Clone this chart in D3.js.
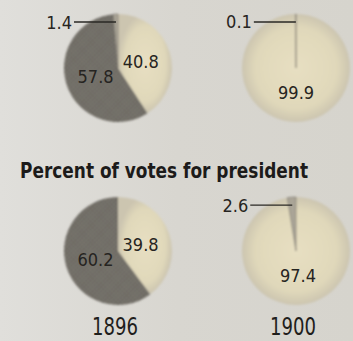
<!DOCTYPE html>
<html>
<head>
<meta charset="utf-8">
<script src="https://cdn.jsdelivr.net/npm/d3@7"></script>
<style>
  html, body { margin: 0; padding: 0; background: #d9d7d1; }
  svg { display: block; }
</style>
</head>
<body>
<svg id="chart" width="353" height="341"></svg>
<script>
// Election years, one column of pies each
const years = ["1896", "1900"];
const sliceKeys = ["light", "dark", "minor"];

// Upper row of pies (percent)
const upperLight = [40.8, 99.9];
const upperDark = [57.8, 0];
const upperMinor = [1.4, 0.1];

// Percent of votes for president
const presLight = [39.8, 97.4];
const presDark = [60.2, 0];
const presMinor = [0, 2.6];

const rowTitles = ["", "Percent of votes for president"];

const W = 353, H = 341;
const svg = d3.select("#chart");
const defs = svg.append("defs");

// paper background
const bg = defs.append("linearGradient").attr("id", "paper")
  .attr("x1", 0).attr("x2", 1).attr("y1", 0).attr("y2", 0);
bg.append("stop").attr("offset", 0).attr("stop-color", "#e0dfdb");
bg.append("stop").attr("offset", 0.5).attr("stop-color", "#d8d6d0");
bg.append("stop").attr("offset", 1).attr("stop-color", "#d6d4cd");
svg.append("rect").attr("width", W).attr("height", H).attr("fill", "url(#paper)");

// halftone screen for the dark share
const ht = defs.append("pattern").attr("id", "halftone")
  .attr("patternUnits", "userSpaceOnUse").attr("width", 3).attr("height", 3)
  .attr("patternTransform", "rotate(45)");
ht.append("rect").attr("width", 3).attr("height", 3).attr("fill", "#8e8a81");
ht.append("circle").attr("cx", 1.5).attr("cy", 1.5).attr("r", 1.15).attr("fill", "#514e49");

// pale tint for the light share
const lt = defs.append("radialGradient").attr("id", "tint");
lt.append("stop").attr("offset", 0).attr("stop-color", "#e7dfc2");
lt.append("stop").attr("offset", 0.75).attr("stop-color", "#e0d8ba");
lt.append("stop").attr("offset", 1).attr("stop-color", "#ccc5b0");

const soft = defs.append("filter").attr("id", "soft")
  .attr("x", "-10%").attr("y", "-10%").attr("width", "120%").attr("height", "120%");
soft.append("feGaussianBlur").attr("stdDeviation", 0.9);

const fills = { light: "url(#tint)", dark: "url(#halftone)", minor: "#aaa597" };

const x = d3.scalePoint().domain(years).range([118, 296]);
const y = d3.scalePoint().domain([0, 1]).range([68, 251]);
const radius = 54;

const pie = d3.pie().sort(null).value(d => d.value)
  .startAngle(0).endAngle(2 * Math.PI);
const arc = d3.arc().innerRadius(0).outerRadius(radius);
const labelArc = d3.arc().innerRadius(0).outerRadius(radius * 0.88);

const rows = [
  [upperLight, upperDark, upperMinor],
  [presLight, presDark, presMinor]
];

const numFont = "'DejaVu Sans Condensed', 'DejaVu Sans', sans-serif";

rows.forEach((series, r) => {
  if (rowTitles[r]) {
    svg.append("text")
      .attr("x", 20).attr("y", y(r) - 73)
      .attr("textLength", 288).attr("lengthAdjust", "spacingAndGlyphs")
      .attr("font-family", numFont).attr("font-weight", "bold")
      .attr("font-size", 21).attr("fill", "#1c1b1a")
      .text(rowTitles[r]);
  }

  years.forEach((yr, i) => {
    const data = sliceKeys.map((k, j) => ({ key: k, value: series[j][i] }));
    const slices = pie(data).filter(s => s.data.value > 0);
    const g = svg.append("g").attr("transform", `translate(${x(yr)},${y(r)})`);

    g.append("g").attr("filter", "url(#soft)")
      .selectAll("path").data(slices).join("path")
      .attr("d", arc)
      .attr("fill", d => fills[d.data.key])
      .attr("stroke", d => d.data.key === "minor" ? "#6e6a62" : "none")
      .attr("stroke-width", 0.6);

    // value labels inside the larger slices
    g.selectAll("text.inside").data(slices.filter(s => s.data.value >= 10)).join("text")
      .attr("class", "inside")
      .attr("transform", d => {
        const [cx, cy] = labelArc.centroid(d);
        return `translate(${cx},${cy})`;
      })
      .attr("dy", "0.4em")
      .attr("text-anchor", "middle")
      .attr("font-family", numFont).attr("font-size", 18)
      .attr("fill", "#262421")
      .text(d => d3.format(".1f")(d.data.value));

    // small slices get a leader line out to the left
    slices.filter(s => s.data.value < 10).forEach(s => {
      const mid = (s.startAngle + s.endAngle) / 2;
      const ex = Math.sin(mid) * (radius - 8);
      const ey = -Math.cos(mid) * (radius - 8);
      const sx = ex - 42;
      g.append("line")
        .attr("x1", sx).attr("y1", ey).attr("x2", ex).attr("y2", ey)
        .attr("stroke", "#2a2825").attr("stroke-width", 1.4);
      g.append("text")
        .attr("x", sx - 2).attr("y", ey).attr("dy", "0.36em")
        .attr("text-anchor", "end")
        .attr("font-family", numFont).attr("font-size", 18)
        .attr("fill", "#262421")
        .text(d3.format(".1f")(s.data.value));
    });

    if (r === rows.length - 1) {
      svg.append("text")
        .attr("x", x(yr) - 26).attr("y", 335)
        .attr("textLength", 46).attr("lengthAdjust", "spacingAndGlyphs")
        .attr("font-family", numFont).attr("font-size", 25)
        .attr("fill", "#1f1e1c")
        .text(yr);
    }
  });
});
</script>
</body>
</html>
